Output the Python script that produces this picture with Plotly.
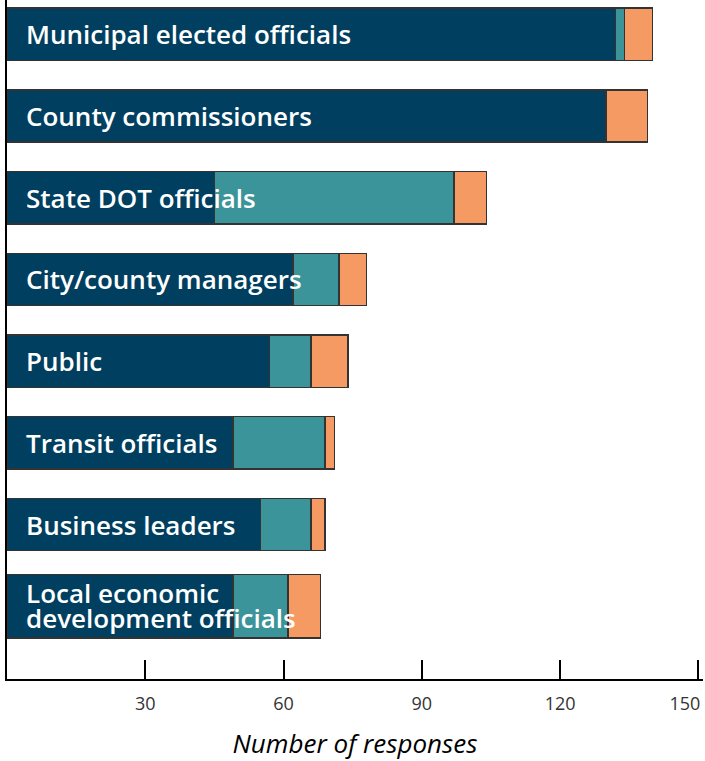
import plotly.graph_objects as go

# categories, top to bottom
groups = ["Municipal elected officials", "County commissioners", "State DOT officials",
          "City/county managers", "Public", "Transit officials", "Business leaders",
          "Local economic<br>development officials"]

# three stacked segments
seg_dark   = [132, 130, 45, 62, 57, 49, 55, 49]
seg_teal   = [2, 0, 52, 10, 9, 20, 11, 12]
seg_orange = [6, 9, 7, 6, 8, 2, 3, 7]

tick_vals   = [30, 60, 90, 120, 150]
tick_labels = ["30", "60", "90", "120", "150\u2003\u2002"]  # last one nudged left so it fits

dark_color   = '#003f5f'
teal_color   = '#3b9499'
orange_color = '#f69a63'
line_color   = '#333333'
text_color   = '#333333'
font_family  = "Open Sans"

bar_widths = [0.64] * 7 + [0.78]

fig = go.Figure()

for vals, col in [(seg_dark, dark_color), (seg_teal, teal_color), (seg_orange, orange_color)]:
    fig.add_trace(go.Bar(
        y=groups,
        x=vals,
        orientation='h',
        width=bar_widths,
        marker=dict(color=col, line=dict(width=1.5, color=line_color)),
        showlegend=False,
        hoverinfo='skip'
    ))

# white labels sitting over the bars
for g in groups:
    lines = g.split("<br>")
    n = len(lines)
    for i, ln in enumerate(lines):
        fig.add_annotation(
            x=0, y=g, xref='x', yref='y',
            text=ln,
            showarrow=False,
            xanchor='left',
            xshift=17,
            yshift=(n - 1) * 13 - i * 25,
            font=dict(size=26, color='white', family=font_family, weight=600)
        )

fig.update_layout(
    barmode='stack',
    width=705, height=761,
    margin=dict(t=0, b=82, l=7, r=2),
    paper_bgcolor='white',
    plot_bgcolor='white',
    xaxis=dict(
        range=[0, 151],  # a bit past 150 so the inside tick at 150 is not clipped
        automargin=False,
        tickvals=tick_vals,
        ticktext=tick_labels,
        ticks='inside',
        ticklen=19,
        tickwidth=2,
        tickcolor='black',
        ticklabeloverflow='allow',
        ticklabelstandoff=7,
        showgrid=False,
        zeroline=False,
        showline=True,
        linecolor='black',
        linewidth=2,
        tickfont=dict(size=18, color=text_color, family=font_family, weight=400),
        title=dict(text="Number of responses", standoff=22,
                   font=dict(size=26, color='black', family=font_family, style='italic')),
    ),
    yaxis=dict(
        range=[7.89, -0.42],
        automargin=False,
        showticklabels=False,
        ticks='',
        showgrid=False,
        zeroline=False,
        showline=True,
        linecolor='black',
        linewidth=2,
    ),
)

# drop the default page margin so the figure fills the window without scrollbars
fig.write_html("out.html", config={'displayModeBar': False},
               post_script="document.body.style.margin='0';")
